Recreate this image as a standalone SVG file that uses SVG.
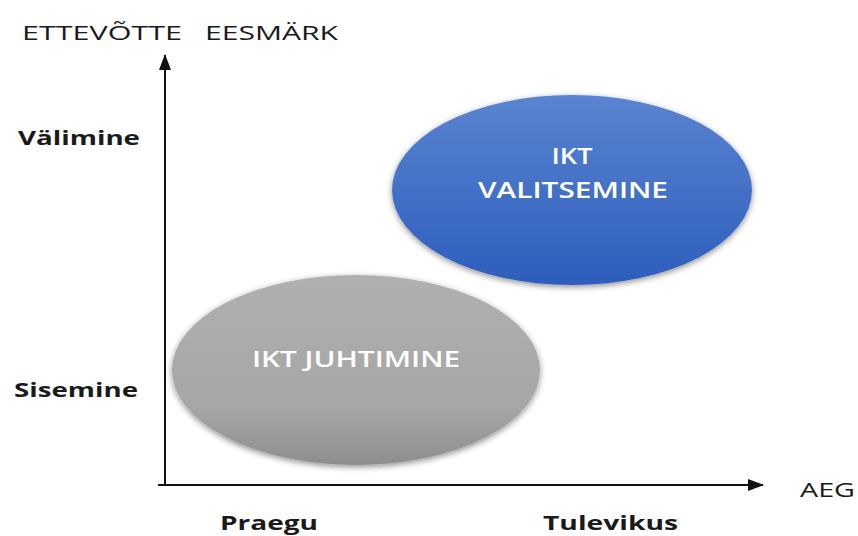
<svg xmlns="http://www.w3.org/2000/svg" width="858" height="536" viewBox="0 0 858 536">
<style>
.lbl{font-family:"Open Sans","Liberation Sans",sans-serif;fill:#1a1a1a}
.b{font-weight:bold}
.in{font-family:"Open Sans","Liberation Sans",sans-serif;fill:#ffffff;font-size:21px;font-weight:600;text-anchor:middle}
.ax{stroke:#111;stroke-width:2;fill:none}
</style>
<defs>
<linearGradient id="gBlue" x1="0" y1="0" x2="0" y2="1">
<stop offset="0" stop-color="#5a84d0"/>
<stop offset="1" stop-color="#2d5dbd"/>
</linearGradient>
<linearGradient id="gGray" x1="0" y1="0" x2="0" y2="1">
<stop offset="0" stop-color="#b0b0b0"/>
<stop offset="0.7" stop-color="#a6a6a6"/>
<stop offset="1" stop-color="#8e8e8e"/>
</linearGradient>
<filter id="sh" x="-10%" y="-15%" width="120%" height="135%">
<feGaussianBlur in="SourceAlpha" stdDeviation="3"/>
<feOffset dx="0" dy="2" result="b"/>
<feComponentTransfer><feFuncA type="linear" slope="0.45"/></feComponentTransfer>
<feMerge><feMergeNode/><feMergeNode in="SourceGraphic"/></feMerge>
</filter>
<marker id="arr" markerWidth="16" markerHeight="12" refX="15" refY="6" orient="auto" markerUnits="userSpaceOnUse" viewBox="0 0 16 12">
<path d="M0,0 L16,6 L0,12 z" fill="#111"/>
</marker>
</defs>
<rect width="858" height="536" fill="#ffffff"/>
<g id="connectors">
<line class="ax" x1="165" y1="486" x2="165" y2="55" marker-end="url(#arr)"/>
<line class="ax" x1="158" y1="485" x2="763" y2="485" marker-end="url(#arr)"/>
</g>
<g id="labels">
<text class="lbl" x="22" y="40" font-size="20" textLength="160" lengthAdjust="spacingAndGlyphs">ETTEVÕTTE</text>
<text class="lbl" x="205" y="40" font-size="20" textLength="133" lengthAdjust="spacingAndGlyphs">EESMÄRK</text>
<text class="lbl b" x="18" y="145" font-size="20" textLength="122" lengthAdjust="spacingAndGlyphs">Välimine</text>
<text class="lbl b" x="14" y="397" font-size="20" textLength="124" lengthAdjust="spacingAndGlyphs">Sisemine</text>
<text class="lbl b" x="220" y="530" font-size="20" textLength="98" lengthAdjust="spacingAndGlyphs">Praegu</text>
<text class="lbl b" x="543" y="530" font-size="20" textLength="135" lengthAdjust="spacingAndGlyphs">Tulevikus</text>
<text class="lbl" x="800" y="497" font-size="20" textLength="55" lengthAdjust="spacingAndGlyphs">AEG</text>
</g>
<g id="node-valitsemine">
<ellipse cx="572" cy="190" rx="180" ry="95" fill="url(#gBlue)" filter="url(#sh)"/>
<text class="in" x="572" y="164" textLength="41" lengthAdjust="spacingAndGlyphs">IKT</text>
<text class="in" x="573" y="198" textLength="190" lengthAdjust="spacingAndGlyphs">VALITSEMINE</text>
</g>
<g id="node-juhtimine">
<ellipse cx="356" cy="370" rx="184" ry="95" fill="url(#gGray)" filter="url(#sh)"/>
<text class="in" x="356" y="367" textLength="208" lengthAdjust="spacingAndGlyphs">IKT JUHTIMINE</text>
</g>
</svg>
